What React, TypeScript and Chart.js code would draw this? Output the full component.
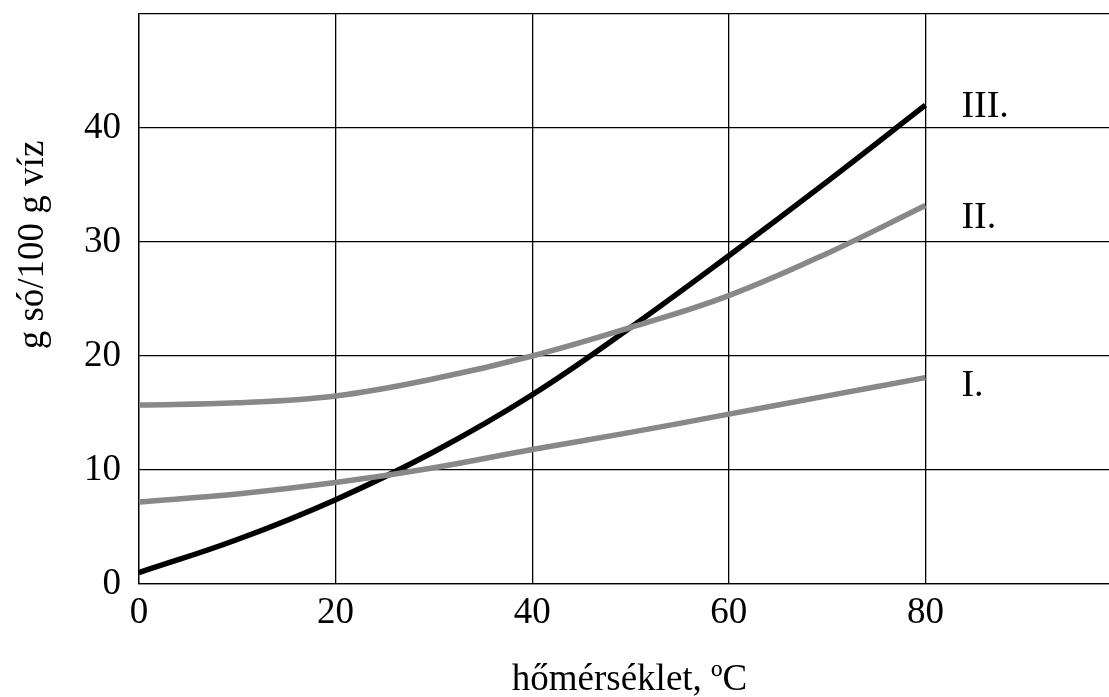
import React, { useEffect, useRef } from "react";
import { Chart, registerables } from "chart.js";

Chart.register(...registerables);

const temperatures = [0, 10, 20, 30, 40, 50, 60, 70, 80];
const seriesI = [7.2, 7.9, 8.9, 10.2, 11.8, 13.3, 14.9, 16.5, 18.1];
const seriesII = [15.7, 15.9, 16.5, 18.0, 20.0, 22.5, 25.3, 29.0, 33.2];
const seriesIII = [1.0, 3.9, 7.4, 11.6, 16.6, 22.5, 28.8, 35.3, 42.0];
const seriesNames = ["I.", "II.", "III."];
const seriesLabelValues = [16.5, 31.2, 41.0];
const xTicks = [0, 20, 40, 60, 80];
const yTicks = [0, 10, 20, 30, 40];
const xTitle = "hőmérséklet, ºC";
const yTitle = "g só/100 g víz";

const FONT = '"Liberation Serif", "Times New Roman", serif';

const toPoints = (ys: number[]) => temperatures.map((x, i) => ({ x, y: ys[i] }));

const annotationsPlugin = {
  id: "annotations",
  afterDraw(chart: any) {
    const { ctx, chartArea, scales } = chart;
    ctx.save();
    ctx.fillStyle = "#000";
    // series labels
    ctx.font = `38px ${FONT}`;
    ctx.textAlign = "left";
    ctx.textBaseline = "alphabetic";
    const lastX = temperatures[temperatures.length - 1];
    seriesNames.forEach((name, i) => {
      const px = scales.x.getPixelForValue(lastX) + 36;
      const py = scales.y.getPixelForValue(seriesLabelValues[i]);
      ctx.fillText(name, px, py);
    });
    // x title
    ctx.font = `37px ${FONT}`;
    ctx.textAlign = "center";
    ctx.fillText(xTitle, (chartArea.left + chartArea.right) / 2 - 1, chartArea.bottom + 106);
    // y title
    ctx.translate(chartArea.left - 96, chartArea.top + 231);
    ctx.rotate(-Math.PI / 2);
    ctx.fillText(yTitle, 0, 0);
    ctx.restore();
  },
};

const lineStyle = (color: string) => ({
  borderColor: color,
  borderWidth: 5.5,
  pointRadius: 0,
  tension: 0.4,
  clip: false as const,
});

export default function App() {
  const canvasRef = useRef<HTMLCanvasElement | null>(null);

  useEffect(() => {
    if (!canvasRef.current) return;
    const chart = new Chart(canvasRef.current, {
      type: "line",
      data: {
        datasets: [
          { label: seriesNames[0], data: toPoints(seriesI), ...lineStyle("#888888") },
          { label: seriesNames[1], data: toPoints(seriesII), ...lineStyle("#888888") },
          { label: seriesNames[2], data: toPoints(seriesIII), ...lineStyle("#000000") },
        ],
      },
      options: {
        animation: false,
        responsive: false,
        layout: { padding: { top: 14, right: 18, left: 0, bottom: 0 } },
        plugins: {
          legend: { display: false },
          tooltip: { enabled: false },
        },
        scales: {
          x: {
            type: "linear",
            min: 0,
            max: 100,
            afterFit: (s: any) => {
              s.height = 113;
              s.paddingLeft = 0;
              s.paddingRight = 0;
            },
            ticks: {
              stepSize: 20,
              color: "#000",
              font: { family: FONT, size: 37 },
              padding: 7,
              maxRotation: 0,
              autoSkip: false,
              callback: (v: any) => (xTicks.includes(Number(v)) ? String(v) : ""),
            },
            grid: { color: "#000", lineWidth: 1.3, drawTicks: false },
            border: { color: "#000", width: 1.3 },
          },
          y: {
            type: "linear",
            min: 0,
            max: 50,
            afterFit: (s: any) => {
              s.width = 139;
              s.paddingTop = 0;
              s.paddingBottom = 0;
            },
            ticks: {
              stepSize: 10,
              color: "#000",
              font: { family: FONT, size: 37 },
              padding: 18,
              autoSkip: false,
              callback: (v: any) => (yTicks.includes(Number(v)) ? String(v) : ""),
            },
            grid: { color: "#000", lineWidth: 1.3, drawTicks: false },
            border: { color: "#000", width: 1.3 },
          },
        },
      },
      plugins: [annotationsPlugin],
    });
    return () => chart.destroy();
  }, []);

  return (
    <div style={{ position: "absolute", left: 0, top: 0, width: 1109, height: 697, overflow: "hidden", background: "#fff" }}>
      <canvas ref={canvasRef} width={1140} height={697} style={{ display: "block" }} />
    </div>
  );
}
